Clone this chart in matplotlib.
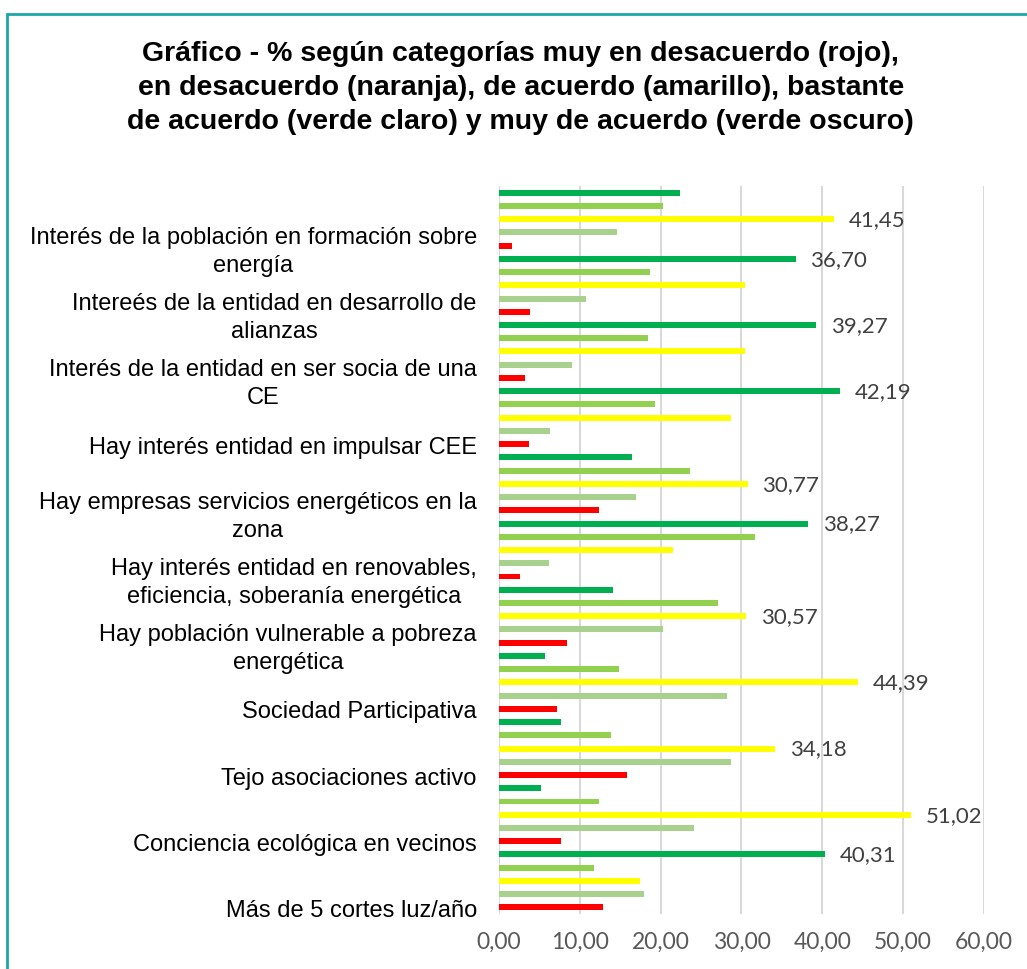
import numpy as np
import matplotlib.pyplot as plt
from matplotlib.patches import Rectangle

categorias = [
    "Interés de la población en formación sobre\nenergía",
    "Intereés de la entidad en desarrollo de\nalianzas",
    "Interés de la entidad en ser socia de una\nCE",
    "Hay interés entidad en impulsar CEE",
    "Hay empresas servicios energéticos en la\nzona",
    "Hay interés entidad en renovables,\neficiencia, soberanía energética",
    "Hay población vulnerable a pobreza\nenergética",
    "Sociedad Participativa",
    "Tejo asociaciones activo",
    "Conciencia ecológica en vecinos",
    "Más de 5 cortes luz/año",
]

# % por categoria (de arriba a abajo)
muy_desacuerdo = [1.57, 3.80, 3.18, 3.68, 12.34, 2.56, 8.38, 7.14, 15.80, 7.64, 12.83]
desacuerdo = [14.57, 10.73, 9.00, 6.27, 16.92, 6.15, 20.26, 28.18, 28.68, 24.10, 17.91]
de_acuerdo = [41.45, 30.41, 30.41, 28.68, 30.77, 21.50, 30.57, 44.39, 34.18, 51.02, 17.41]
bastante_acuerdo = [20.26, 18.65, 18.40, 19.27, 23.60, 31.65, 27.07, 14.81, 13.82, 12.34, 11.72]
muy_acuerdo = [22.36, 36.70, 39.27, 42.19, 16.42, 38.27, 14.07, 5.66, 7.64, 5.16, 40.31]

colores = ["#FF0000", "#A9D18E", "#FFFF00", "#92D050", "#00B050"]
series = [muy_desacuerdo, desacuerdo, de_acuerdo, bastante_acuerdo, muy_acuerdo]

fig = plt.figure(figsize=(10.27, 9.70), dpi=100)
ax = fig.add_axes([0.4859, 0.0567, 0.4722, 0.7505])

n = len(categorias)
for g in range(n):
    base = (n - 1 - g) * 5
    vals = [s[g] for s in series]
    imax = int(np.argmax(vals))
    for k, (s, c) in enumerate(zip(series, colores)):
        ax.barh(base + k, s[g], height=0.45, color=c, zorder=3)
        if k == imax:
            ax.text(s[g] + 1.8, base + k, ("%.2f" % s[g]).replace(".", ","),
                    va="center", ha="left", fontsize=16, color="#404040",
                    family="Lato")

ax.set_ylim(-0.5, n * 5 - 0.5)
ax.set_xlim(0, 60)
ax.set_yticks([(n - 1 - g) * 5 for g in range(n)])
ax.set_yticklabels(categorias, fontsize=17, family="Liberation Sans", color="black",
                   linespacing=1.35, multialignment="center")
ax.set_xticks(range(0, 61, 10))
ax.set_xticklabels([("%.2f" % v).replace(".", ",") for v in range(0, 61, 10)],
                   fontsize=16.5, color="#595959", family="Lato")
ax.tick_params(axis="both", length=0)
ax.tick_params(axis="x", pad=12)
ax.tick_params(axis="y", pad=16)
ax.grid(axis="x", color="#D9D9D9", linewidth=1.5, zorder=0)
for sp in ax.spines.values():
    sp.set_visible(False)

fig.text(0.507, 0.909,
         "Gráfico - % según categorías muy en desacuerdo (rojo),\n"
         "en desacuerdo (naranja), de acuerdo (amarillo), bastante\n"
         "de acuerdo (verde claro) y muy de acuerdo (verde oscuro)",
         ha="center", va="center", fontsize=20.5, fontweight="bold",
         family="Liberation Sans", linespacing=1.4)

fig.patches.append(Rectangle((7 / 1027, -0.1), 1.2, (970 - 15) / 970 + 0.1,
                             transform=fig.transFigure, fill=False,
                             edgecolor="#1BA7A6", linewidth=2))

fig.savefig("out.png", dpi=100)
